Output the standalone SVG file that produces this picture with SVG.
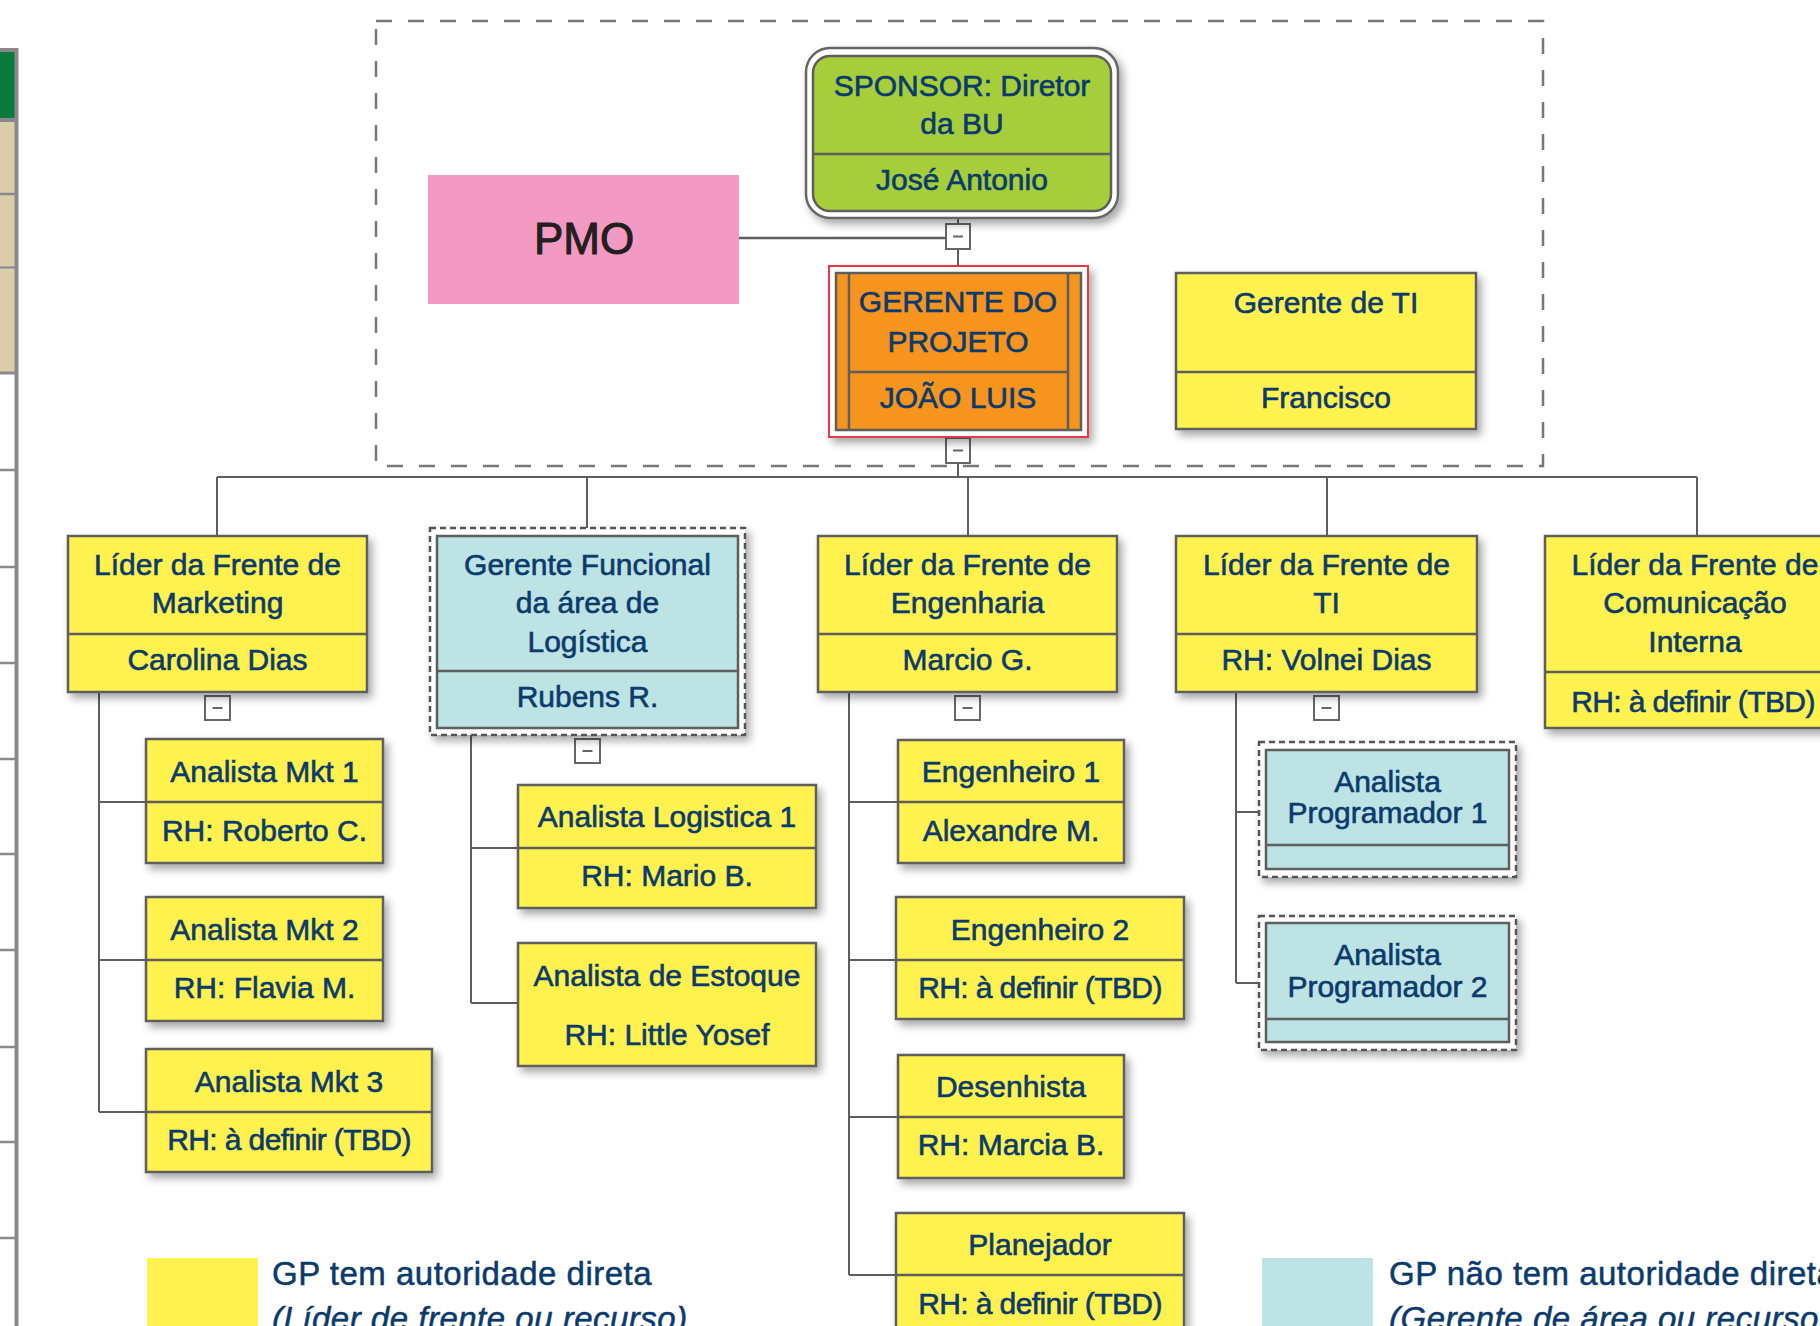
<svg xmlns="http://www.w3.org/2000/svg" width="1820" height="1326" viewBox="0 0 1820 1326">
<defs>
<filter id="sh" x="-10%" y="-10%" width="130%" height="140%">
<feDropShadow dx="4" dy="5" stdDeviation="4" flood-color="#000" flood-opacity="0.35"/>
</filter>
<style>
.bx{stroke:#5e5e5e;stroke-width:2.5}
.y{fill:#fff24f}
.b{fill:#bde3e4}
.dv{stroke:#5e5e5e;stroke-width:2.5}
.dash{fill:#fff;stroke:#555;stroke-width:2.5;stroke-dasharray:6 4}
.t{font-family:"Liberation Sans",Arial,sans-serif;font-size:30px;fill:#0b3a6c;stroke:#0b3a6c;stroke-width:0.6;text-anchor:middle}
.tbd{letter-spacing:-0.6px}
.lg{font-family:"Liberation Sans",Arial,sans-serif;font-size:33px;fill:#0b3a6c;stroke:#0b3a6c;stroke-width:0.5;letter-spacing:0.5px}
.conn path{stroke:#5e5e5e;stroke-width:2;fill:none}
.cb rect{fill:#fff;stroke:#666;stroke-width:2}
.cb line{stroke:#666;stroke-width:2}
.grid line{stroke:#8a8a8a;stroke-width:2.5}
</style>
</defs>
<rect width="1820" height="1326" fill="#fff"/>

<!-- left table strip -->
<g id="left-strip" class="grid">
<rect x="-5" y="50" width="21" height="68" fill="#0b7a3c"/>
<rect x="-5" y="121" width="21" height="72" fill="#dccdaa"/>
<rect x="-5" y="195" width="21" height="71" fill="#dccdaa"/>
<rect x="-5" y="269" width="21" height="104" fill="#dccdaa"/>
<line x1="0" y1="50" x2="18" y2="50" style="stroke-width:4"/>
<line x1="0" y1="120" x2="18" y2="120" style="stroke-width:4"/>
<line x1="0" y1="194" x2="18" y2="194"/>
<line x1="0" y1="267.5" x2="18" y2="267.5"/>
<line x1="0" y1="373" x2="18" y2="373" style="stroke-width:3"/>
<line x1="0" y1="470" x2="18" y2="470"/>
<line x1="0" y1="567" x2="18" y2="567"/>
<line x1="0" y1="663" x2="18" y2="663"/>
<line x1="0" y1="759" x2="18" y2="759"/>
<line x1="0" y1="854" x2="18" y2="854"/>
<line x1="0" y1="950" x2="18" y2="950"/>
<line x1="0" y1="1047" x2="18" y2="1047"/>
<line x1="0" y1="1142" x2="18" y2="1142"/>
<line x1="0" y1="1238" x2="18" y2="1238"/>
<line x1="16.5" y1="48" x2="16.5" y2="1326" style="stroke-width:4"/>
</g>

<!-- dashed container -->
<rect id="top-group" x="376" y="21" width="1167" height="445" fill="none" stroke="#777" stroke-width="2.5" stroke-dasharray="16 16"/>

<!-- connectors -->
<g id="connectors" class="conn">
<path d="M739 238H946" style="stroke-width:2.5"/>
<path d="M958 218V224M958 249V266M958 463V477"/>
<path d="M217 477H1697M217 477V536M587 477V528M968 477V536M1327 477V536M1697 477V536"/>
<path d="M99 692V1112M99 802H146M99 960H146M99 1112H146"/>
<path d="M471 735V1003M471 848H518M471 1003H518"/>
<path d="M849 692V1275M849 802H898M849 960H896M849 1117H898M849 1275H896"/>
<path d="M1236 692V983M1236 812H1259M1236 983H1259"/>
</g>

<!-- collapse buttons -->
<g id="collapse-buttons" class="cb">
<rect x="946" y="224" width="24" height="25"/><line x1="953" y1="236.5" x2="963" y2="236.5"/>
<rect x="946" y="438" width="24" height="25"/><line x1="953" y1="450.5" x2="963" y2="450.5"/>
<rect x="205" y="696" width="25" height="24"/><line x1="212.5" y1="708" x2="222.5" y2="708"/>
<rect x="575" y="739" width="25" height="24"/><line x1="582.5" y1="751" x2="592.5" y2="751"/>
<rect x="955" y="696" width="25" height="24"/><line x1="962.5" y1="708" x2="972.5" y2="708"/>
<rect x="1314" y="696" width="25" height="24"/><line x1="1321.5" y1="708" x2="1331.5" y2="708"/>
</g>

<!-- PMO -->
<g id="pmo">
<rect x="428" y="175" width="311" height="129" fill="#f39ac3"/>
<text x="584" y="254" font-family="Liberation Sans,Arial,sans-serif" font-size="44" fill="#231f20" stroke="#231f20" stroke-width="1" text-anchor="middle">PMO</text>
</g>

<!-- Sponsor -->
<g id="sponsor">
<g filter="url(#sh)">
<rect x="806" y="48" width="312" height="170" rx="24" fill="#fff" stroke="#666" stroke-width="2.5"/>
</g>
<rect x="813" y="56" width="298" height="155" rx="17" fill="#a6cd3a" class="bx"/>
<line x1="813" y1="154" x2="1111" y2="154" class="dv"/>
<text class="t" x="962" y="96">SPONSOR: Diretor</text>
<text class="t" x="962" y="134">da BU</text>
<text class="t" x="962" y="190">José Antonio</text>
</g>

<!-- Gerente do Projeto -->
<g id="gerente-projeto">
<rect x="829" y="266" width="259" height="171" fill="#fff" stroke="#e63946" stroke-width="2" filter="url(#sh)"/>
<rect x="836" y="273" width="245" height="157" fill="#f7941d" class="bx"/>
<line x1="849" y1="273" x2="849" y2="430" class="dv"/>
<line x1="1068" y1="273" x2="1068" y2="430" class="dv"/>
<line x1="849" y1="372" x2="1068" y2="372" class="dv"/>
<text class="t" x="958" y="312">GERENTE DO</text>
<text class="t" x="958" y="352">PROJETO</text>
<text class="t" x="958" y="408">JOÃO LUIS</text>
</g>

<!-- Gerente de TI -->
<g id="gerente-ti">
<rect x="1176" y="273" width="300" height="156" class="bx y" filter="url(#sh)"/>
<line x1="1176" y1="372" x2="1476" y2="372" class="dv"/>
<text class="t" x="1326" y="313">Gerente de TI</text>
<text class="t" x="1326" y="408">Francisco</text>
</g>

<!-- Level 2 -->
<g id="lider-marketing">
<rect x="68" y="536" width="299" height="156" class="bx y" filter="url(#sh)"/>
<line x1="68" y1="634" x2="367" y2="634" class="dv"/>
<text class="t" x="217.5" y="575">Líder da Frente de</text>
<text class="t" x="217.5" y="613">Marketing</text>
<text class="t" x="217.5" y="670">Carolina Dias</text>
</g>

<g id="gerente-logistica">
<rect x="430" y="528" width="315" height="207" class="dash" filter="url(#sh)"/>
<rect x="437" y="536" width="301" height="192" class="bx b"/>
<line x1="437" y1="671" x2="738" y2="671" class="dv"/>
<text class="t" x="587.5" y="575">Gerente Funcional</text>
<text class="t" x="587.5" y="613">da área de</text>
<text class="t" x="587.5" y="652">Logística</text>
<text class="t" x="587.5" y="707">Rubens R.</text>
</g>

<g id="lider-engenharia">
<rect x="818" y="536" width="299" height="156" class="bx y" filter="url(#sh)"/>
<line x1="818" y1="634" x2="1117" y2="634" class="dv"/>
<text class="t" x="967.5" y="575">Líder da Frente de</text>
<text class="t" x="967.5" y="613">Engenharia</text>
<text class="t" x="967.5" y="670">Marcio G.</text>
</g>

<g id="lider-ti">
<rect x="1176" y="536" width="301" height="156" class="bx y" filter="url(#sh)"/>
<line x1="1176" y1="634" x2="1477" y2="634" class="dv"/>
<text class="t" x="1326.5" y="575">Líder da Frente de</text>
<text class="t" x="1326.5" y="613">TI</text>
<text class="t" x="1326.5" y="670">RH: Volnei Dias</text>
</g>

<g id="lider-comunicacao">
<rect x="1545" y="536" width="300" height="192" class="bx y" filter="url(#sh)"/>
<line x1="1545" y1="672" x2="1845" y2="672" class="dv"/>
<text class="t" x="1695" y="575">Líder da Frente de</text>
<text class="t" x="1695" y="613">Comunicação</text>
<text class="t" x="1695" y="652">Interna</text>
<text class="t tbd" x="1693" y="712">RH: à definir (TBD)</text>
</g>

<!-- Marketing children -->
<g id="analista-mkt-1">
<rect x="146" y="739" width="237" height="124" class="bx y" filter="url(#sh)"/>
<line x1="146" y1="802" x2="383" y2="802" class="dv"/>
<text class="t" x="264.5" y="782">Analista Mkt 1</text>
<text class="t" x="264.5" y="841">RH: Roberto C.</text>
</g>
<g id="analista-mkt-2">
<rect x="146" y="897" width="237" height="124" class="bx y" filter="url(#sh)"/>
<line x1="146" y1="960" x2="383" y2="960" class="dv"/>
<text class="t" x="264.5" y="940">Analista Mkt 2</text>
<text class="t" x="264.5" y="998">RH: Flavia M.</text>
</g>
<g id="analista-mkt-3">
<rect x="146" y="1049" width="286" height="123" class="bx y" filter="url(#sh)"/>
<line x1="146" y1="1112" x2="432" y2="1112" class="dv"/>
<text class="t" x="289" y="1092">Analista Mkt 3</text>
<text class="t tbd" x="289" y="1150">RH: à definir (TBD)</text>
</g>

<!-- Logistica children -->
<g id="analista-logistica-1">
<rect x="518" y="785" width="298" height="123" class="bx y" filter="url(#sh)"/>
<line x1="518" y1="848" x2="816" y2="848" class="dv"/>
<text class="t" x="667" y="827">Analista Logistica 1</text>
<text class="t" x="667" y="886">RH: Mario B.</text>
</g>
<g id="analista-estoque">
<rect x="518" y="943" width="298" height="123" class="bx y" filter="url(#sh)"/>
<text class="t" x="667" y="986">Analista de Estoque</text>
<text class="t" x="667" y="1045">RH: Little Yosef</text>
</g>

<!-- Engenharia children -->
<g id="engenheiro-1">
<rect x="898" y="740" width="226" height="123" class="bx y" filter="url(#sh)"/>
<line x1="898" y1="802" x2="1124" y2="802" class="dv"/>
<text class="t" x="1011" y="782">Engenheiro 1</text>
<text class="t" x="1011" y="841">Alexandre M.</text>
</g>
<g id="engenheiro-2">
<rect x="896" y="897" width="288" height="122" class="bx y" filter="url(#sh)"/>
<line x1="896" y1="960" x2="1184" y2="960" class="dv"/>
<text class="t" x="1040" y="940">Engenheiro 2</text>
<text class="t tbd" x="1040" y="998">RH: à definir (TBD)</text>
</g>
<g id="desenhista">
<rect x="898" y="1055" width="226" height="123" class="bx y" filter="url(#sh)"/>
<line x1="898" y1="1117" x2="1124" y2="1117" class="dv"/>
<text class="t" x="1011" y="1097">Desenhista</text>
<text class="t" x="1011" y="1155">RH: Marcia B.</text>
</g>
<g id="planejador">
<rect x="896" y="1213" width="288" height="125" class="bx y" filter="url(#sh)"/>
<line x1="896" y1="1275" x2="1184" y2="1275" class="dv"/>
<text class="t" x="1040" y="1255">Planejador</text>
<text class="t tbd" x="1040" y="1314">RH: à definir (TBD)</text>
</g>

<!-- TI children -->
<g id="analista-programador-1">
<rect x="1259" y="742" width="257" height="135" class="dash" filter="url(#sh)"/>
<rect x="1266" y="750" width="243" height="119" class="bx b"/>
<line x1="1266" y1="845" x2="1509" y2="845" class="dv"/>
<text class="t" x="1387.5" y="792">Analista</text>
<text class="t" x="1387.5" y="823">Programador 1</text>
</g>
<g id="analista-programador-2">
<rect x="1259" y="916" width="257" height="134" class="dash" filter="url(#sh)"/>
<rect x="1266" y="923" width="243" height="119" class="bx b"/>
<line x1="1266" y1="1019" x2="1509" y2="1019" class="dv"/>
<text class="t" x="1387.5" y="965">Analista</text>
<text class="t" x="1387.5" y="997">Programador 2</text>
</g>

<!-- Legend -->
<g id="legend-direta">
<rect x="147" y="1258" width="111" height="80" fill="#fff24f"/>
<text class="lg" x="272" y="1285">GP tem autoridade direta</text>
<text class="lg" x="272" y="1330" font-style="italic">(Líder de frente ou recurso)</text>
</g>
<g id="legend-indireta">
<rect x="1262" y="1258" width="111" height="80" fill="#bde3e4"/>
<text class="lg" x="1389" y="1285">GP não tem autoridade direta</text>
<text class="lg" x="1389" y="1330" font-style="italic">(Gerente de área ou recurso)</text>
</g>
</svg>
